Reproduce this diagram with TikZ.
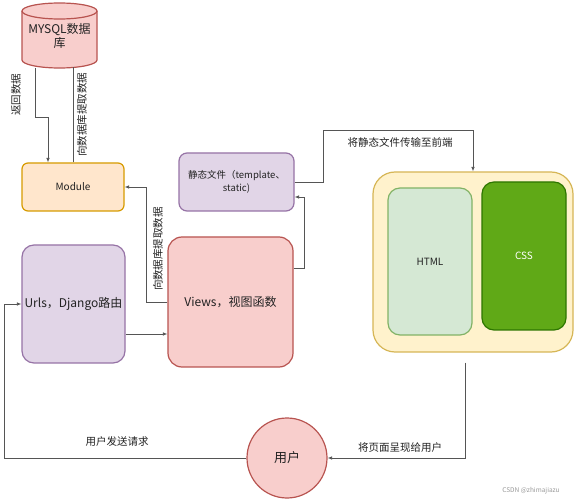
\documentclass[tikz,border=0pt]{standalone}
\usepackage{fontspec}
\setmainfont{Noto Sans CJK SC}
\usetikzlibrary{arrows.meta,calc}
\definecolor{redf}{HTML}{F8CECC}\definecolor{redd}{HTML}{B85450}
\definecolor{orgf}{HTML}{FFE6CC}\definecolor{orgd}{HTML}{D79B00}
\definecolor{purf}{HTML}{E1D5E7}\definecolor{purd}{HTML}{9673A6}
\definecolor{yelf}{HTML}{FFF2CC}\definecolor{yeld}{HTML}{D6B656}
\definecolor{grnf}{HTML}{D5E8D4}\definecolor{grnd}{HTML}{82B366}
\definecolor{dgrf}{HTML}{60A917}\definecolor{dgrd}{HTML}{2D7600}
\definecolor{conn}{HTML}{555555}
\definecolor{txt}{HTML}{222222}
\tikzset{
  box/.style={draw, line width=1.2pt, inner sep=0pt, text=txt},
  lbl/.style={font=\fontsize{10.5}{12}\selectfont, text=txt, inner sep=0pt},
  conline/.style={draw=conn, line width=0.8pt},
  arr/.style={conline, -{Latex[length=4.5pt,width=3.5pt]}},
}
\begin{document}
\begin{tikzpicture}[x=1pt,y=-1pt]
\useasboundingbox[fill=white] (0,0) rectangle (574,500);
% database cylinder
\path[fill=redf, draw=redd, line width=1.2pt]
  (22,11) -- (22,60) arc[start angle=180, end angle=0, x radius=37.5, y radius=8]
  -- (97,11) arc[start angle=0, end angle=-180, x radius=37.5, y radius=8] -- cycle;
\draw[redd, line width=1.2pt] (22,11) arc[start angle=180, end angle=0, x radius=37.5, y radius=8];
\node[inner sep=0pt, minimum width=75pt, minimum height=65pt] (db) at (59.5,35.5) {};
\node[align=center, text=txt, font=\fontsize{12}{14}\selectfont, inner sep=0pt] (dbt) at (59.5,35.5) {MYSQL数据\\库};
% boxes
\node[box, fill=orgf, draw=orgd, rounded corners=6pt, minimum width=102pt, minimum height=48pt,
  font=\fontsize{10}{12}\selectfont] (mod) at (73,187) {Module};
\node[box, fill=purf, draw=purd, rounded corners=8pt, minimum width=115pt, minimum height=58pt,
  align=center, font=\fontsize{9.5}{13}\selectfont] (static) at (236.5,182) {静态文件（template、\\static)};
\node[box, fill=purf, draw=purd, rounded corners=12pt, minimum width=103pt, minimum height=118pt,
  font=\fontsize{12}{14}\selectfont] (urls) at (73.5,304) {Urls，Django路由};
\node[box, fill=redf, draw=redd, rounded corners=14pt, minimum width=125pt, minimum height=130pt,
  font=\fontsize{12}{14}\selectfont] (views) at (230.5,302) {Views，视图函数};
\node[box, fill=yelf, draw=yeld, rounded corners=22pt, minimum width=200pt, minimum height=180pt] (front) at (473,262) {};
\node[box, fill=grnf, draw=grnd, rounded corners=12pt, minimum width=84pt, minimum height=147pt,
  font=\fontsize{10}{12}\selectfont] (html) at (430,261.5) {HTML};
\node[box, fill=dgrf, draw=dgrd, rounded corners=12pt, minimum width=84pt, minimum height=148pt,
  text=white, font=\fontsize{10}{12}\selectfont] (css) at (524,256) {CSS};
\node[box, circle, fill=redf, draw=redd, minimum size=80pt, font=\fontsize{13}{15}\selectfont] (user) at (287,458) {用户};
% connectors
\draw[arr] ($(db.south)+(-24.5,0)$) -- ++(0,49) -| ($(mod.north)+(-25,0)$);
\draw[conline] (mod.north) -- ($(mod.north |- db.south)+(0,-1)$);
\draw[arr] (views.west) -- ++(-21,0) |- (mod.east);
\draw[arr] ($(urls.east)+(0,30)$) -- ($(urls.east -| views.west)+(0,30)$);
\draw[arr] ($(views.east)+(0,-34)$) -- ++(11,0) |- ($(static.east)+(0,15)$);
\draw[arr] (static.east) -| ++(29,-52) -| (front.north);
\draw[arr] ($(front.south)+(-8,10)$) |- (user.east);
\draw[arr] (user.west) -| ($(urls.west)+(-17,0)$) -- (urls.west);
% labels
\node[lbl, rotate=90] (l1) at (16,95) {返回数据};
\node[lbl, rotate=90] (l2) at (82,115) {向数据库提取数据};
\node[lbl, rotate=90] (l3) at (158,249) {向数据库提取数据};
\node[lbl] (l4) at (400,142) {将静态文件传输至前端};
\node[lbl] (l5) at (400,448) {将页面呈现给用户};
\node[lbl] (l6) at (117,442) {用户发送请求};
\node[inner sep=0pt, text=black!40, font=\fontsize{6.5}{8}\selectfont] (wm) at (531,491) {CSDN @zhimajiazu};
\end{tikzpicture}
\end{document}
